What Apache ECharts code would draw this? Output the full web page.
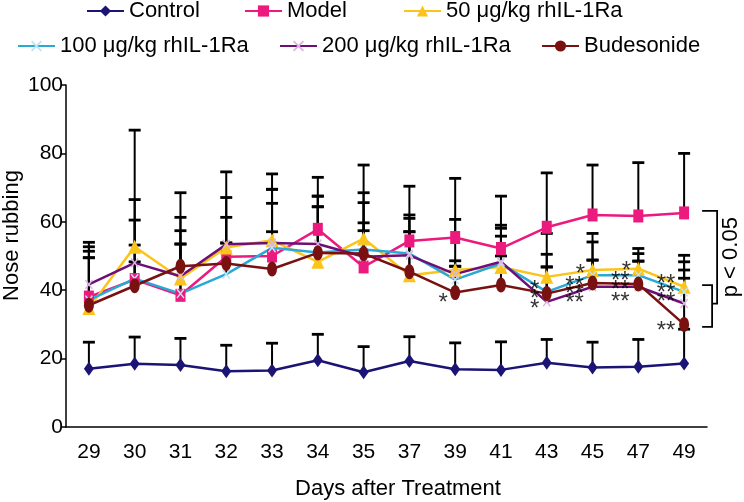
<!DOCTYPE html>
<html>
<head>
<meta charset="utf-8">
<style>
  html, body { margin: 0; padding: 0; background: #fff; }
  #chart { width: 744px; height: 502px; }
</style>
<script src="https://cdn.jsdelivr.net/npm/echarts@6.0.0/dist/echarts.min.js"></script>
</head>
<body>
<div id="chart"></div>
<script>
var FONT = "'Liberation Sans', Arial, sans-serif";

// days after treatment (categories)
var days = ['29', '30', '31', '32', '33', '34', '35', '37', '39', '41', '43', '45', '47', '49'];

// group means
var control = [17.0, 18.5, 18.1, 16.3, 16.5, 19.5, 16.0, 19.3, 16.9, 16.7, 18.8, 17.4, 17.6, 18.6];
var model   = [38.0, 43.1, 38.5, 49.8, 50.0, 57.8, 46.8, 54.4, 55.4, 52.2, 58.4, 62.0, 61.7, 62.6];
var rh50    = [34.8, 52.7, 43.4, 52.5, 54.6, 48.3, 55.1, 44.4, 45.9, 46.8, 43.9, 45.9, 46.3, 41.0];
var rh100   = [37.1, 43.4, 39.0, 44.7, 52.4, 51.0, 51.9, 50.7, 43.1, 47.8, 39.5, 44.4, 44.4, 39.5];
var rh200   = [41.7, 48.0, 44.1, 53.4, 53.8, 53.5, 49.8, 50.2, 44.7, 48.3, 36.6, 41.0, 41.0, 36.1];
var budes   = [35.6, 41.3, 47.0, 47.8, 46.2, 50.9, 50.7, 45.4, 39.3, 41.5, 39.0, 42.1, 41.8, 30.0];

// upper SD
var controlSD = [7.8, 7.8, 7.8, 7.6, 8.0, 7.6, 7.5, 7.1, 7.7, 8.2, 6.8, 7.4, 8.0, 10.0];
var modelSD   = [16.0, 43.7, 30.0, 24.8, 24.0, 15.2, 29.8, 16.0, 17.3, 15.3, 15.9, 14.6, 15.6, 17.4];
var rh50SD    = [14.7, 13.8, 10.1, 8.8, 14.9, 16.1, 13.4, 12.7, 14.8, 9.0, 12.7, 10.7, 5.9, 9.2];
var rh100SD   = [14.3, 17.1, 14.5, 9.1, 17.1, 16.5, 13.7, 10.3, 3.9, 10.3, 11.0, 9.7, 6.3, 8.8];
var rh200SD   = [11.0, 5.2, 13.3, 13.7, 11.6, 14.0, 7.6, 11.8, 3.9, 10.7, 10.2, 7.8, 7.5, 9.8];
var budesSD   = [13.9, 7.0, 14.3, 6.0, 10.9, 13.5, 9.0, 11.7, 7.7, 8.5, 7.8, 6.7, 6.7, 13.5];

// significance marks: [day index, value, text]
var stars = [
  [8, 38.0, '*'],
  [10, 41.7, '*'], [10, 39.1, '*'], [10, 36.2, '*'],
  [11, 46.4, '*'], [11, 42.9, '**'], [11, 40.6, '**'], [11, 38.0, '**'],
  [12, 47.3, '*'], [12, 44.4, '**'], [12, 41.8, '**'], [12, 38.2, '**'],
  [13, 43.5, '**'], [13, 40.9, '**'], [13, 38.2, '**'], [13, 29.7, '**']
];
var starDx = { '*': -12, '**': -18 };

var names = ['Control', 'Model', '50 μg/kg rhIL-1Ra', '100 μg/kg rhIL-1Ra', '200 μg/kg rhIL-1Ra', 'Budesonide'];
var colors = ['#1b1474', '#ec1a7f', '#fbc41a', '#2aa8d6', '#6e0f78', '#7a1111'];
var means = [control, model, rh50, rh100, rh200, budes];
var sds = [controlSD, modelSD, rh50SD, rh100SD, rh200SD, budesSD];

var xMark = 'path://M0,0.12L0.12,0L1,0.88L0.88,1Z M0.88,0L1,0.12L0.12,1L0,0.88Z';
var symbols = ['diamond', 'rect', 'triangle', xMark, xMark, 'circle'];
var symbolSizes = [[10, 14], [10, 13], [13, 14], [8, 10], [8, 10], [10, 15]];
var markerColors = ['#1b1474', '#ec1a7f', '#fbc41a', '#bfe5f3', '#dcb6e2', '#7a1111'];

var chart = echarts.init(document.getElementById('chart'));

var errData = [];
for (var s = 0; s < means.length; s++) {
  for (var i = 0; i < days.length; i++) {
    errData.push([i, means[s][i], means[s][i] + sds[s][i]]);
  }
}

var series = [{
  type: 'custom',
  name: 'err',
  z: 1,
  silent: true,
  encode: { x: 0, y: [1, 2] },
  data: errData,
  renderItem: function(params, api) {
    var p0 = api.coord([api.value(0), api.value(1)]);
    var p1 = api.coord([api.value(0), api.value(2)]);
    return {
      type: 'group',
      children: [
        { type: 'line', shape: { x1: p0[0], y1: p0[1], x2: p1[0], y2: p1[1] }, style: { stroke: '#000', lineWidth: 2 } },
        { type: 'line', shape: { x1: p1[0] - 6, y1: p1[1], x2: p1[0] + 6, y2: p1[1] }, style: { stroke: '#000', lineWidth: 2.8 } }
      ]
    };
  }
}];

for (var k = 0; k < names.length; k++) {
  series.push({
    name: names[k],
    type: 'line',
    data: means[k],
    symbol: symbols[k],
    symbolSize: symbolSizes[k],
    showAllSymbol: true,
    z: 3,
    itemStyle: { color: markerColors[k], opacity: 1 },
    lineStyle: { color: colors[k], width: 2.5 }
  });
}

series.push({
  type: 'scatter',
  name: 'stars',
  z: 5,
  silent: true,
  symbolSize: 0,
  data: stars.map(function(d) {
    return {
      value: [d[0], d[1]],
      label: { formatter: d[2], offset: [starDx[d[2]], 6] }
    };
  }),
  label: {
    show: true,
    position: 'inside',
    color: '#000',
    fontSize: 24,
    fontFamily: FONT
  }
});

// one legend per item so each sits where the original has it
var legendPos = [[86, 0], [244, 0], [403, 0], [17, 35], [279, 35], [541, 35]];
var legends = names.map(function(n, idx) {
  return {
    data: [n],
    left: legendPos[idx][0],
    top: legendPos[idx][1],
    padding: 0,
    itemWidth: 37,
    itemHeight: 14,
    selectedMode: false,
    textStyle: { fontSize: 22, fontFamily: FONT, color: '#000' }
  };
});

var option = {
  animation: false,
  backgroundColor: '#fff',
  legend: legends,
  grid: { left: 66, right: 37, top: 85, bottom: 75, containLabel: false, outerBoundsMode: 'none' },
  xAxis: {
    type: 'category',
    data: days,
    boundaryGap: true,
    name: 'Days after Treatment',
    nameLocation: 'middle',
    nameGap: 51,
    nameMoveOverlap: false,
    nameTextStyle: { fontSize: 22, fontFamily: FONT, color: '#000', padding: [0, 0, 0, 23] },
    axisLine: { lineStyle: { color: '#000', width: 1.5 } },
    axisTick: { inside: true, length: 12, alignWithLabel: false, lineStyle: { color: '#000', width: 1.5 } },
    axisLabel: { fontSize: 21, fontFamily: FONT, color: '#000', margin: 15, interval: 0 },
    splitLine: { show: false }
  },
  yAxis: {
    type: 'value',
    min: 0,
    max: 100,
    interval: 20,
    name: 'Nose rubbing',
    nameLocation: 'middle',
    nameGap: 43,
    nameMoveOverlap: false,
    nameTextStyle: { fontSize: 22, fontFamily: FONT, color: '#000', padding: [0, 0, 0, 41] },
    axisLine: { show: true, lineStyle: { color: '#000', width: 1.5 } },
    axisTick: { show: true, length: 5, lineStyle: { color: '#000', width: 1.5 } },
    axisLabel: { fontSize: 21, fontFamily: FONT, color: '#000', margin: 3 },
    splitLine: { show: false }
  },
  series: series
};

chart.setOption(option);

// brackets and p-value
var yp = function(v) { return chart.convertToPixel({ yAxisIndex: 0 }, v); };
var xLast = chart.convertToPixel({ xAxisIndex: 0 }, 13);
var bx0 = xLast + 18, bx1 = xLast + 28, bx2 = xLast + 33;
var upTop = yp(63.2), upBot = yp(36.1), loTop = yp(41.5), loBot = yp(29.3);
var br = { stroke: '#000', lineWidth: 1.8 };
chart.setOption({
  graphic: [
    { type: 'polyline', shape: { points: [[bx0, upTop], [bx2, upTop], [bx2, upBot], [bx1, upBot]] }, style: br },
    { type: 'polyline', shape: { points: [[bx0, loTop], [bx1, loTop], [bx1, loBot], [bx0, loBot]] }, style: br },
    {
      type: 'text',
      x: bx2 + 14,
      y: (upTop + upBot) / 2,
      rotation: Math.PI / 2,
      style: { text: 'p < 0.05', fontSize: 22, fontFamily: FONT, fill: '#000', align: 'center', verticalAlign: 'middle' }
    }
  ]
});
</script>
</body>
</html>
